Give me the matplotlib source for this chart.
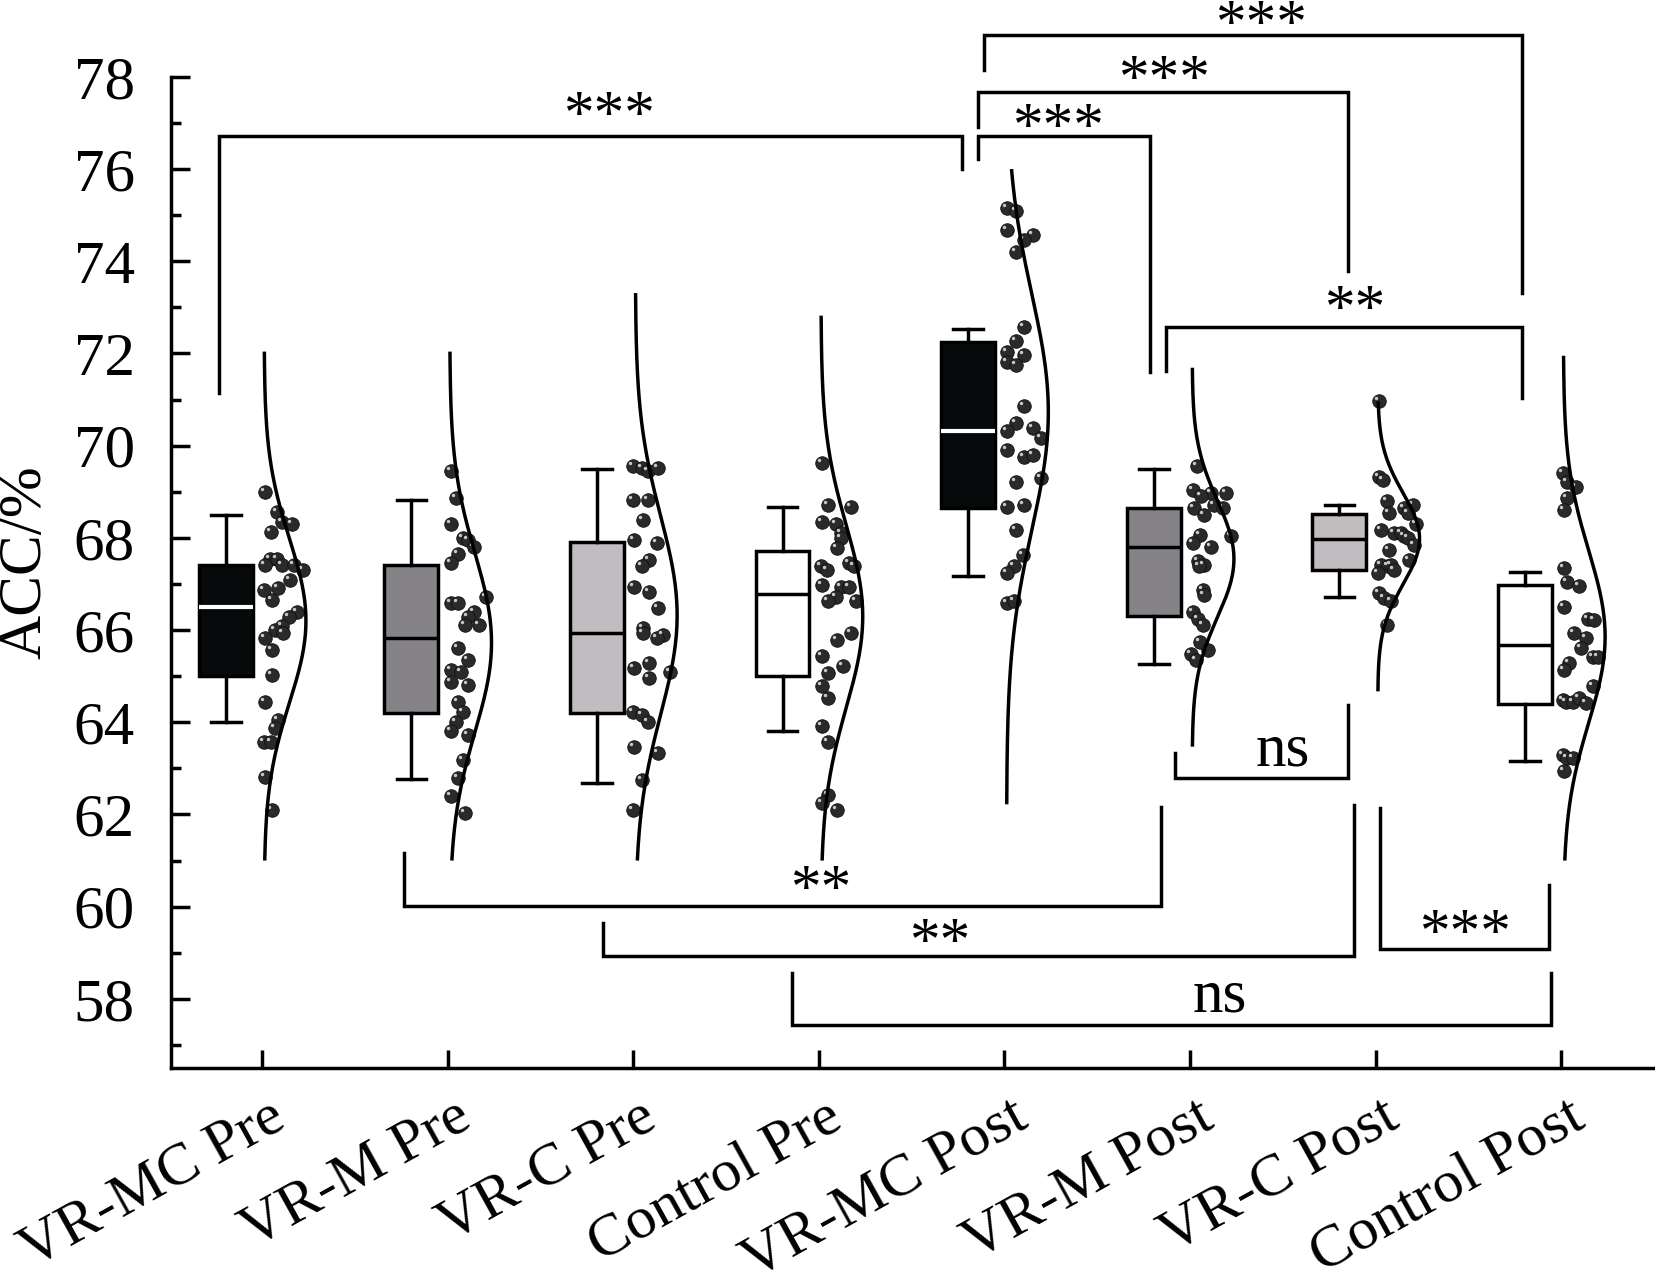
import numpy as np
import matplotlib
matplotlib.use("Agg")
from matplotlib import pyplot as plt
from matplotlib.transforms import ScaledTranslation, offset_copy

plt.rcParams['font.family'] = ['Liberation Serif', 'DejaVu Serif']

# 组别
groups = ['VR-MC Pre', 'VR-M Pre', 'VR-C Pre', 'Control Pre',
          'VR-MC Post', 'VR-M Post', 'VR-C Post', 'Control Post']
box_colors = ['#070a0b', '#858387', '#c1bcbf', '#ffffff',
              '#070a0b', '#858387', '#c1bcbf', '#ffffff']

# 箱线图统计量
q1 = [65.00, 64.20, 64.20, 65.01, 68.65, 66.31, 67.31, 64.40]
med = [66.50, 65.83, 65.94, 66.78, 70.32, 67.80, 67.98, 65.68]
q3 = [67.41, 67.41, 67.91, 67.72, 72.25, 68.65, 68.52, 66.98]
whis_lo = [64.00, 62.77, 62.69, 63.81, 67.18, 65.27, 66.72, 63.16]
whis_hi = [68.50, 68.82, 69.50, 68.68, 72.53, 69.50, 68.72, 67.26]

# 分布曲线的范围
curve_lo = [61.00, 61.00, 61.00, 61.00, 62.22, 63.47, 64.67, 61.00]
curve_hi = [72.04, 72.04, 73.31, 72.82, 76.00, 71.69, 70.96, 71.95]

# 散点 (y 值, 水平偏移)
vrmc_pre_y = [69.00, 68.57, 68.35, 68.31, 68.13, 67.55, 67.55, 67.41, 67.41, 67.41,
              67.30, 67.09, 66.91, 66.87, 66.65, 66.40, 66.29, 66.08, 66.00, 65.93,
              65.82, 65.57, 65.03, 64.45, 64.05, 63.87, 63.58, 63.58, 62.82, 62.10]
vrmc_pre_dx = [0.005, 0.07, 0.10, 0.15, 0.04, 0.035, 0.07, 0.005, 0.10, 0.165,
               0.21, 0.14, 0.075, 0.0, 0.045, 0.18, 0.135, 0.10, 0.06, 0.105,
               0.005, 0.045, 0.045, 0.005, 0.075, 0.06, 0.0, 0.04, 0.005, 0.045]
vrm_pre_y = [69.44, 68.86, 68.31, 67.99, 67.95, 67.81, 67.66, 67.45, 66.72, 66.58,
             66.58, 66.40, 66.29, 66.11, 66.11, 65.61, 65.35, 65.14, 65.10, 64.88,
             64.81, 64.45, 64.23, 64.01, 63.80, 63.73, 63.19, 62.79, 62.39, 62.03]
vrm_pre_dx = [0.01, 0.037, 0.01, 0.073, 0.10, 0.135, 0.046, 0.01, 0.198, 0.01,
              0.046, 0.135, 0.10, 0.082, 0.162, 0.046, 0.10, 0.01, 0.064, 0.01,
              0.10, 0.046, 0.073, 0.037, 0.01, 0.10, 0.073, 0.046, 0.01, 0.082]
vrc_pre_y = [69.55, 69.51, 69.44, 69.51, 68.82, 68.82, 68.39, 67.95, 67.88, 67.52,
             67.38, 66.94, 66.83, 66.47, 66.04, 65.93, 65.90, 65.82, 65.28, 65.17,
             65.10, 64.95, 64.23, 64.16, 64.01, 63.47, 63.33, 62.75, 62.10]
vrc_pre_dx = [-0.01, 0.036, 0.072, 0.126, -0.01, 0.072, 0.041, -0.005, 0.117, 0.077,
              0.036, -0.005, 0.077, 0.122, 0.041, 0.041, 0.153, 0.117, 0.077, -0.005,
              0.189, 0.077, -0.01, 0.036, 0.072, -0.005, 0.126, 0.036, -0.01]
ctrl_pre_y = [69.62, 68.71, 68.68, 68.35, 68.31, 68.10, 67.99, 67.77, 67.45, 67.38,
              67.38, 67.31, 66.98, 66.94, 66.94, 66.72, 66.62, 66.62, 65.93, 65.78,
              65.43, 65.21, 65.07, 64.78, 64.53, 63.92, 63.58, 62.42, 62.24, 62.10]
ctrl_pre_dx = [0.005, 0.041, 0.163, 0.005, 0.083, 0.11, 0.11, 0.088, 0.154, 0.181,
               0.0, 0.034, 0.005, 0.11, 0.154, 0.083, 0.038, 0.19, 0.163, 0.088,
               0.005, 0.119, 0.041, 0.005, 0.041, 0.005, 0.041, 0.041, 0.005, 0.088]
vrmc_post_y = [75.15, 75.08, 74.68, 74.57, 74.46, 74.21, 72.58, 72.26, 72.04, 71.97,
               71.82, 71.75, 70.85, 70.49, 70.31, 70.38, 70.16, 69.91, 69.76, 69.80,
               69.30, 69.22, 68.68, 68.72, 68.17, 67.63, 67.38, 67.24, 66.58, 66.62]
vrmc_post_dx = [0.007, 0.052, 0.007, 0.142, 0.097, 0.052, 0.097, 0.052, 0.007, 0.097,
                0.007, 0.052, 0.097, 0.052, 0.007, 0.142, 0.187, 0.007, 0.097, 0.142,
                0.187, 0.052, 0.007, 0.097, 0.052, 0.088, 0.043, 0.007, 0.007, 0.043]
vrm_post_y = [69.55, 69.04, 68.97, 68.97, 68.90, 68.71, 68.64, 68.64, 68.50, 68.06,
              68.03, 67.88, 67.81, 67.49, 67.41, 67.38, 66.87, 66.76, 66.40, 66.25,
              66.11, 65.75, 65.57, 65.49, 65.35]
vrm_post_dx = [0.027, 0.004, 0.103, 0.184, 0.049, 0.121, 0.166, 0.013, 0.067, 0.045,
               0.211, 0.004, 0.103, 0.031, 0.067, 0.04, 0.058, 0.067, 0.004, 0.031,
               0.058, 0.045, 0.085, -0.005, 0.022]
vrc_post_y = [70.96, 69.33, 69.26, 68.79, 68.54, 68.64, 68.71, 68.54, 68.29, 68.17,
              68.10, 68.10, 68.03, 67.99, 67.85, 67.74, 67.52, 67.41, 67.38, 67.41,
              67.31, 67.24, 66.80, 66.69, 66.62, 66.11]
vrc_post_dx = [0.01, 0.01, 0.028, 0.051, 0.064, 0.145, 0.19, 0.163, 0.208, 0.019,
               0.091, 0.127, 0.145, 0.163, 0.199, 0.064, 0.172, 0.019, 0.055, 0.073,
               0.091, 0.001, 0.01, 0.037, 0.073, 0.051]
ctrl_post_y = [69.40, 69.22, 69.11, 68.86, 68.61, 67.34, 67.05, 66.96, 66.51, 66.25,
               66.22, 65.93, 65.82, 65.61, 65.42, 65.42, 65.28, 65.14, 64.78, 64.49,
               64.45, 64.45, 64.52, 64.42, 63.30, 63.23, 63.23, 62.94]
ctrl_post_dx = [0.0, 0.021, 0.07, 0.021, 0.007, 0.007, 0.021, 0.088, 0.007, 0.133,
                0.169, 0.061, 0.124, 0.097, 0.16, 0.186, 0.034, 0.007, 0.16, 0.0,
                0.016, 0.052, 0.088, 0.124, 0.0, 0.021, 0.052, 0.007]

points_y = [vrmc_pre_y, vrm_pre_y, vrc_pre_y, ctrl_pre_y,
            vrmc_post_y, vrm_post_y, vrc_post_y, ctrl_post_y]
points_dx = [vrmc_pre_dx, vrm_pre_dx, vrc_pre_dx, ctrl_pre_dx,
             vrmc_post_dx, vrm_post_dx, vrc_post_dx, ctrl_post_dx]

# 显著性标注: (x1, x2, 横线y, 左腿末端, 右腿末端, 文字, 文字x, 文字中心y)
brackets = [
    (-0.233, 3.773, 76.72, 71.15, 76.00, '***', 1.87, 77.40),
    (3.858, 4.786, 76.72, 76.22, 71.60, '***', 4.29, 77.14),
    (3.856, 5.852, 77.68, 76.92, 73.78, '***', 4.86, 78.19),
    (3.889, 6.790, 78.90, 78.14, 73.31, '***', 5.38, 79.38),
    (4.870, 6.790, 72.58, 71.62, 71.04, '**', 5.89, 73.20),
    (4.921, 5.854, 62.79, 63.33, 64.38, 'ns', 5.50, 63.37),
    (0.768, 4.843, 60.02, 61.17, 62.17, '**', 3.01, 60.61),
    (1.838, 5.884, 58.92, 59.64, 62.21, '**', 3.65, 59.46),
    (6.025, 6.934, 59.08, 62.14, 60.47, '***', 6.48, 59.67),
    (2.856, 6.945, 57.44, 58.56, 58.55, 'ns', 5.16, 58.02),
]

W, H = 1656, 1286
fig = plt.figure(figsize=(W / 100, H / 100), dpi=100)
px_per_unit = 46.1
ax_h = 1068
ymin = 56.5
ax = fig.add_axes([171 / W, (H - ax_h) / H, 1 - 171 / W, ax_h / H])
ax.set_ylim(ymin, ymin + ax_h / px_per_unit)
ax.set_xlim(-0.49, -0.49 + (W - 171) / 185.6)

lw = 2.5
box_off = -0.195

# 箱线图
stats = []
for i in range(len(groups)):
    stats.append(dict(q1=q1[i], med=med[i], q3=q3[i], whislo=whis_lo[i],
                      whishi=whis_hi[i], fliers=[]))
pos = np.arange(len(groups)) + box_off
bp = ax.bxp(stats, positions=pos, widths=0.29, capwidths=0.16, patch_artist=True,
            showfliers=False, manage_ticks=False,
            boxprops=dict(linewidth=lw, edgecolor='black'),
            whiskerprops=dict(linewidth=lw, color='black'),
            capprops=dict(linewidth=lw, color='black'),
            medianprops=dict(linewidth=lw, color='black'))
for i, b in enumerate(bp['boxes']):
    b.set_facecolor(box_colors[i])
    if box_colors[i] == '#070a0b':
        bp['medians'][i].set_color('white')
        bp['medians'][i].set_linewidth(3)

# 散点 + 高光
hl_trans = offset_copy(ax.transData, fig=fig, x=-3, y=3, units='dots')
for i in range(len(groups)):
    xs = i + np.array(points_dx[i]) + 0.01
    ys = np.array(points_y[i])
    ax.scatter(xs, ys, s=95, color='#2a2a2a', edgecolors='#101010',
               linewidths=0.6, zorder=3)
    ax.scatter(xs, ys, s=6, color='#c8c8c8', linewidths=0, zorder=4,
               transform=hl_trans)

# 正态分布曲线
for i in range(len(groups)):
    ys = np.array(points_y[i])
    mu, sd = ys.mean(), ys.std()
    yy = np.linspace(curve_lo[i], curve_hi[i], 200)
    pdf = np.exp(-0.5 * ((yy - mu) / sd) ** 2)
    ax.plot(i + 0.012 + 0.225 * pdf, yy, color='black', lw=lw, zorder=5,
            solid_capstyle='butt')

# 显著性标注
for x1, x2, yb, y1, y2, lab, tx, ty in brackets:
    ax.plot([x1, x1, x2, x2], [y1, yb, yb, y2], color='black', lw=lw,
            clip_on=False, solid_joinstyle='miter', zorder=6)
    shift = 20 if '*' in lab else 10
    ax.annotate(lab, xy=(tx, ty), xytext=(0, -shift), textcoords='offset points',
                ha='center', va='baseline', fontsize=44, annotation_clip=False)

# 坐标轴
for s in ['top', 'right']:
    ax.spines[s].set_visible(False)
ax.spines['left'].set_linewidth(lw)
ax.spines['bottom'].set_linewidth(lw)
ax.spines['left'].set_bounds(ymin, 78)
ax.set_yticks(np.arange(58, 79, 2))
ax.set_yticks(np.arange(57, 78, 2), minor=True)
ax.tick_params(axis='y', which='major', direction='in', length=14, width=lw,
               labelsize=44, pad=26)
ax.tick_params(axis='y', which='minor', direction='in', length=7, width=lw)
ax.set_xticks(np.arange(len(groups)))
ax.set_xticklabels([])
ax.tick_params(axis='x', which='major', direction='in', length=13, width=lw)

lab_trans = ax.get_xaxis_transform() + ScaledTranslation(0.06, -0.22, fig.dpi_scale_trans)
for i, g in enumerate(groups):
    ax.text(i, 0, g, transform=lab_trans, rotation=29, rotation_mode='anchor',
            ha='right', va='top', fontsize=43.5)

fig.text(26 / W, 1 - 562 / H, 'ACC/%', rotation=90, ha='center', va='center',
         fontsize=44)

fig.savefig('out.png', dpi=100)
